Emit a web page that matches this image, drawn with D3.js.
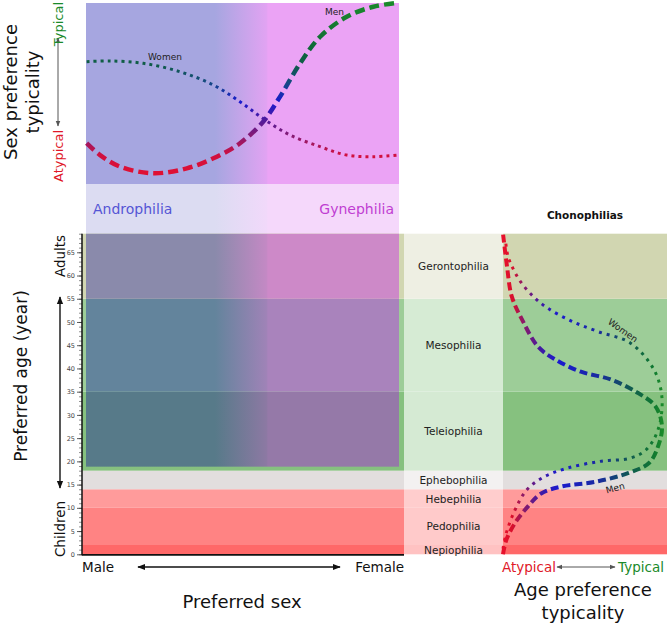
<!DOCTYPE html>
<html><head><meta charset="utf-8">
<script src="https://cdn.jsdelivr.net/npm/d3@7/dist/d3.min.js"></script>
<style>body{margin:0;background:#fff}svg{display:block}text{font-family:"DejaVu Sans",sans-serif}</style>
</head><body>
<svg id="c" width="667" height="624"></svg>
<script>
// ---------- data ----------
const bandNames = ["Nepiophilia","Pedophilia","Hebephilia","Ephebophilia","Teleiophilia","Mesophilia","Gerontophilia"];
const bandStart = [0, 2, 10, 14, 18, 35, 55];
const bandEnd   = [2, 10, 14, 18, 35, 55, 69];
const ageTicks = [0,5,10,15,20,25,30,35,40,45,50,55,60,65];

// age preference typicality (right panel)
const menAge   = [0, 3, 6.7, 10.3, 13.1, 14.6, 15.6, 17.5, 19.7, 23.2, 27.5, 31.8, 34.7, 37.6, 39.3, 41.9, 44.7, 50.5, 55.5, 62, 69];
const menTyp   = [0, 0.02, 0.075, 0.157, 0.24, 0.37, 0.58, 0.79, 0.92, 0.975, 1.0, 0.96, 0.85, 0.68, 0.49, 0.33, 0.22, 0.12, 0.055, 0.025, 0.0];
const womenAge = [1.2, 4.5, 9.5, 13.9, 16.7, 18.5, 20, 20.7, 22.5, 26.8, 33.6, 39.7, 45.5, 47.9, 50.2, 53, 55.5, 58.7, 61.7, 64.3, 67.8];
const womenTyp = [0, 0.02, 0.075, 0.15, 0.26, 0.40, 0.61, 0.80, 0.90, 0.975, 1.0, 0.95, 0.80, 0.60, 0.43, 0.28, 0.19, 0.11, 0.06, 0.03, 0.015];

// sex preference typicality (top panel): sex 0 = male, 1 = female
const menSex      = [0.002, 0.045, 0.109, 0.215, 0.322, 0.418, 0.492, 0.566, 0.62, 0.684, 0.748, 0.833, 0.918, 0.998];
const menSexTyp   = [0.224, 0.159, 0.095, 0.059, 0.086, 0.15, 0.224, 0.342, 0.48, 0.663, 0.809, 0.919, 0.974, 0.996];
const womenSex    = [0.002, 0.077, 0.183, 0.3, 0.407, 0.492, 0.572, 0.652, 0.748, 0.833, 0.918, 0.998];
const womenSexTyp = [0.672, 0.676, 0.663, 0.617, 0.544, 0.452, 0.352, 0.269, 0.205, 0.159, 0.15, 0.159];

// ---------- styles ----------
const bandColor = ["#ff6868","#ff8383","#ff9b9b","#e2dede","#86c17f","#9dcd98","#d1d6b1"];
const bandLight = ["#ffc2c2","#ffcaca","#ffcdcd","#f3f1f1","#d5ead3","#d6ebd4","#eeefe3"];
const overlayL = {4:"#577a89",5:"#63849c",6:"#8a8aab"};
const overlayR = {4:"#9579a8",5:"#a983bc",6:"#cd89c8"};

const svg = d3.select("#c");
const defs = svg.append("defs");

const y = d3.scaleLinear().domain([0,69]).range([554.3,233.7]);
const xSex = d3.scaleLinear().domain([0,1]).range([86,399]);
const yTyp = d3.scaleLinear().domain([0,1]).range([184,2]);
const xTyp = d3.scaleLinear().domain([0,1]).range([503,662]);

const axisX = 82, leftEnd = 404, colEnd = 503, rightEnd = 667;

function hGrad(id, l, r){
  const g = defs.append("linearGradient").attr("id",id).attr("gradientUnits","userSpaceOnUse")
    .attr("x1",215).attr("x2",268).attr("y1",0).attr("y2",0);
  g.append("stop").attr("offset",0).attr("stop-color",l);
  g.append("stop").attr("offset",0.97).attr("stop-color",d3.interpolateRgb(l,r)(0.85));
  g.append("stop").attr("offset",1).attr("stop-color",r);
}
hGrad("gTop","#a6a6e0","#eba3f5");
hGrad("gBand","#dcdcf2","#f5d8fb");
[4,5,6].forEach(i=>hGrad("gRow"+i, overlayL[i], overlayR[i]));

// line colour gradients
function lineGrad(id, stops, attrs){
  const g = defs.append("linearGradient").attr("id",id).attr("gradientUnits","userSpaceOnUse");
  Object.entries(attrs).forEach(([k,v])=>g.attr(k,v));
  stops.forEach(s=>g.append("stop").attr("offset",s[0]).attr("stop-color",s[1]));
}
lineGrad("lgTop", [[0,"#e8102c"],[0.16,"#d01040"],[0.26,"#8a1a70"],[0.36,"#4a1aa0"],[0.45,"#1a1ad0"],[0.56,"#154a80"],[0.65,"#0f5a4a"],[0.75,"#106a38"],[1,"#1a8a2a"]],
  {x1:0,x2:0,y1:yTyp(0),y2:yTyp(1)});
lineGrad("lgRight", [[0,"#e8102c"],[0.06,"#d8102c"],[0.13,"#8a1a6a"],[0.25,"#3a1aa8"],[0.35,"#1a1ad0"],[0.6,"#1a2aa0"],[0.8,"#105a50"],[0.95,"#107a30"],[1,"#1a8a2a"]],
  {x1:xTyp(0),x2:xTyp(1),y1:0,y2:0});

// ---------- top panel ----------
svg.append("rect").attr("x",xSex(0)).attr("y",yTyp(1)+1).attr("width",xSex(1)-xSex(0)).attr("height",yTyp(0)-yTyp(1)-1).attr("fill","url(#gTop)");
svg.append("rect").attr("x",xSex(0)).attr("y",yTyp(0)).attr("width",xSex(1)-xSex(0)).attr("height",y(69)-yTyp(0)).attr("fill","url(#gBand)");
svg.append("text").attr("x",93).attr("y",214).attr("font-size",14).attr("fill","#5555d5").text("Androphilia");
svg.append("text").attr("x",394).attr("y",214).attr("text-anchor","end").attr("font-size",14).attr("fill","#c03ed2").text("Gynephilia");

// ---------- bands ----------
bandNames.forEach((n,i)=>{
  const y0 = y(bandEnd[i]), h = y(bandStart[i]) - y(bandEnd[i]);
  svg.append("rect").attr("x",axisX).attr("y",y0).attr("width",leftEnd-axisX).attr("height",h).attr("fill",bandColor[i]);
  svg.append("rect").attr("x",leftEnd).attr("y",y0).attr("width",colEnd-leftEnd).attr("height",h).attr("fill",bandLight[i]);
  svg.append("rect").attr("x",colEnd).attr("y",y0).attr("width",rightEnd-colEnd).attr("height",h).attr("fill",bandColor[i]);
});
// overlay for adult ages
[4,5,6].forEach(i=>{
  const top = y(bandEnd[i]);
  const bot = i===4 ? y(bandStart[i]) - 4 : y(bandStart[i]);
  svg.append("rect").attr("x",xSex(0)).attr("y",top).attr("width",xSex(1)-xSex(0)).attr("height",bot-top).attr("fill","url(#gRow"+i+")");
});
// band labels
bandNames.forEach((n,i)=>{
  svg.append("text").attr("x",(leftEnd+colEnd)/2).attr("y",y((bandStart[i]+bandEnd[i])/2)+4)
    .attr("text-anchor","middle").attr("font-size",10.5).attr("fill","#222").text(n);
});

// ---------- axes ----------
const yAxis = d3.axisLeft(y).tickValues(d3.range(0,70,1)).tickSize(3).tickFormat(()=>"");
const ga = svg.append("g").attr("transform",`translate(${axisX},0)`).call(yAxis);
ga.select(".domain").remove();
ga.selectAll(".tick line").attr("stroke","#444").attr("stroke-width",0.6);
const yAxis2 = d3.axisLeft(y).tickValues(ageTicks).tickSize(5).tickPadding(2);
const gb = svg.append("g").attr("transform",`translate(${axisX},0)`).call(yAxis2);
gb.select(".domain").remove();
gb.selectAll(".tick line").attr("stroke","#333").attr("stroke-width",0.8);
gb.selectAll(".tick text").attr("font-size",6.5).attr("fill","#444").attr("font-family","DejaVu Sans");
svg.append("line").attr("x1",axisX).attr("x2",axisX).attr("y1",y(69)).attr("y2",y(0)+1).attr("stroke","#111").attr("stroke-width",1.5);
svg.append("line").attr("x1",axisX).attr("x2",leftEnd).attr("y1",y(0)+0.5).attr("y2",y(0)+0.5).attr("stroke","#111").attr("stroke-width",1.8);

// arrows
function arrowMarker(id,color,size){
  const m = defs.append("marker").attr("id",id).attr("viewBox","0 0 10 10").attr("refX",9).attr("refY",5)
    .attr("markerWidth",size).attr("markerHeight",size).attr("orient","auto-start-reverse").attr("markerUnits","userSpaceOnUse");
  m.append("path").attr("d","M0,1 L10,5 L0,9 Z").attr("fill",color);
}
arrowMarker("aBlack","#111",8);
arrowMarker("aGrey","#555",6);
function dArrow(x1,y1,x2,y2,marker,color,w){
  svg.append("line").attr("x1",x1).attr("y1",y1).attr("x2",x2).attr("y2",y2).attr("stroke",color).attr("stroke-width",w)
    .attr("marker-start",`url(#${marker})`).attr("marker-end",`url(#${marker})`);
}
dArrow(60,297,60,488,"aBlack","#111",1.4);
dArrow(138,567,340,567,"aBlack","#111",1.4);
dArrow(58,38,58,126,"aGrey","#555",1);
dArrow(557,567,615,567,"aGrey","#555",1);

// ---------- curves ----------
const topLine = d3.line().x(d=>xSex(d[0])).y(d=>yTyp(d[1])).curve(d3.curveCatmullRom.alpha(0.5));
const rightLine = d3.line().x(d=>xTyp(d[1])).y(d=>y(d[0])).curve(d3.curveCatmullRom.alpha(0.5));
svg.append("path").attr("d",topLine(d3.zip(womenSex,womenSexTyp))).attr("fill","none").attr("stroke","url(#lgTop)")
  .attr("stroke-width",3).attr("stroke-dasharray","3,4");
svg.append("path").attr("d",topLine(d3.zip(menSex,menSexTyp))).attr("fill","none").attr("stroke","url(#lgTop)")
  .attr("stroke-width",4.5).attr("stroke-dasharray","10,5");
svg.append("path").attr("d",rightLine(d3.zip(womenAge,womenTyp))).attr("fill","none").attr("stroke","url(#lgRight)")
  .attr("stroke-width",3).attr("stroke-dasharray","3,5");
svg.append("path").attr("d",rightLine(d3.zip(menAge,menTyp))).attr("fill","none").attr("stroke","url(#lgRight)")
  .attr("stroke-width",4).attr("stroke-dasharray","8,4");

svg.append("text").attr("x",325).attr("y",15).attr("font-size",9).attr("fill","#222").text("Men");
svg.append("text").attr("x",148).attr("y",60).attr("font-size",9).attr("fill","#222").text("Women");
svg.append("text").attr("transform","translate(621,333) rotate(35)").attr("text-anchor","middle").attr("font-size",9).attr("fill","#222").text("Women");
svg.append("text").attr("transform","translate(616,491) rotate(-15)").attr("text-anchor","middle").attr("font-size",9).attr("fill","#222").text("Men");

// ---------- titles ----------
svg.append("text").attr("x",585).attr("y",219).attr("text-anchor","middle").attr("font-size",10.5).attr("font-weight","bold")
  .attr("font-family","Liberation Sans, Arial, sans-serif").attr("fill","#111").text("Chonophilias");
svg.append("text").attr("transform","translate(17,92) rotate(-90)").attr("text-anchor","middle").attr("font-size",18).attr("fill","#111").text("Sex preference");
svg.append("text").attr("transform","translate(39,92) rotate(-90)").attr("text-anchor","middle").attr("font-size",18).attr("fill","#111").text("typicality");
svg.append("text").attr("transform","translate(63,2) rotate(-90)").attr("text-anchor","end").attr("font-size",13).attr("fill","#1a8a2a").text("Typical");
svg.append("text").attr("transform","translate(63,182) rotate(-90)").attr("text-anchor","start").attr("font-size",13).attr("fill","#e01828").text("Atypical");
svg.append("text").attr("transform","translate(27,376) rotate(-90)").attr("text-anchor","middle").attr("font-size",17).attr("fill","#111").text("Preferred age (year)");
svg.append("text").attr("transform","translate(65,256) rotate(-90)").attr("text-anchor","middle").attr("font-size",13.5).attr("fill","#111").text("Adults");
svg.append("text").attr("transform","translate(65,529) rotate(-90)").attr("text-anchor","middle").attr("font-size",13.5).attr("fill","#111").text("Children");
svg.append("text").attr("x",82).attr("y",572).attr("font-size",13.5).attr("fill","#111").text("Male");
svg.append("text").attr("x",404).attr("y",572).attr("text-anchor","end").attr("font-size",13.5).attr("fill","#111").text("Female");
svg.append("text").attr("x",242).attr("y",608).attr("text-anchor","middle").attr("font-size",18).attr("fill","#111").text("Preferred sex");
svg.append("text").attr("x",502).attr("y",572).attr("font-size",13.5).attr("fill","#e01828").text("Atypical");
svg.append("text").attr("x",664).attr("y",572).attr("text-anchor","end").attr("font-size",13.5).attr("fill","#1a8a2a").text("Typical");
svg.append("text").attr("x",583).attr("y",596).attr("text-anchor","middle").attr("font-size",18).attr("fill","#111").text("Age preference");
svg.append("text").attr("x",583).attr("y",619).attr("text-anchor","middle").attr("font-size",18).attr("fill","#111").text("typicality");
</script>
</body></html>
